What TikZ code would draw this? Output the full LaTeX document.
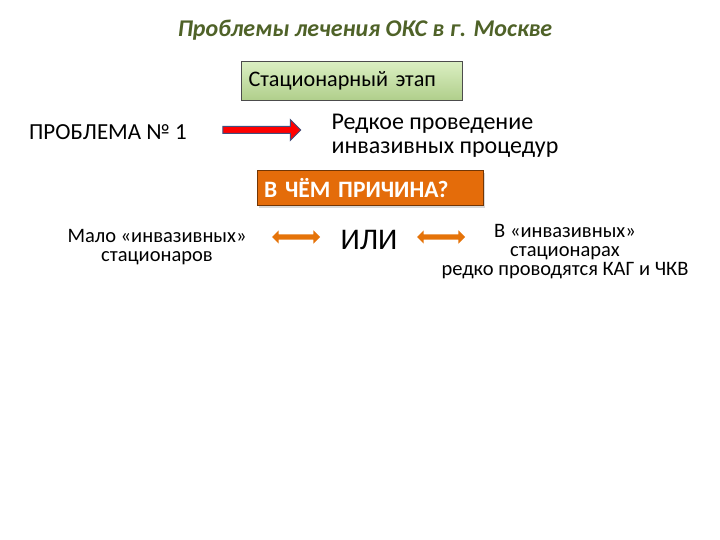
\documentclass[tikz,border=0pt]{standalone}
\usepackage{fontspec}
\setmainfont{Carlito}
\usetikzlibrary{shapes.arrows,shadows,calc}
\definecolor{titlegreen}{HTML}{4F6228}
\definecolor{boxgreen}{HTML}{C3E59A}
\definecolor{boxorange}{HTML}{E46C0A}
\definecolor{arrowedge}{HTML}{3F4F7F}
\tikzset{
    stagebox/.style={draw=black!70,top color=boxgreen!60!white,bottom color=boxgreen!90!black,
      minimum width=221pt,minimum height=39pt,text width=207pt,align=left,inner sep=0pt,
      font=\fontsize{22.2}{26}\selectfont},
    causebox/.style={draw=boxorange!50!black,fill=boxorange,text=white,drop shadow={opacity=0.3},
      minimum width=226pt,minimum height=35pt,text width=212pt,align=left,inner sep=0pt,
      font=\fontsize{23.5}{28}\selectfont\bfseries},
    redarrow/.style={single arrow,draw=arrowedge,fill=red,line width=1pt,inner sep=3pt,
      minimum height=78pt,single arrow head extend=7pt,single arrow head indent=0pt},
    orangearrow/.style={double arrow,fill=boxorange!95!yellow,inner sep=2.5pt,
      minimum height=48pt,double arrow head extend=4pt},
    plaintext/.style={align=center,font=\fontsize{20.5}{19}\selectfont},
  }
\begin{document}
\begin{tikzpicture}[x=1pt,y=-1pt]
				  %cadre 720 x 540
				  \useasboundingbox (0,0) rectangle (720,540);
				  \node[text=titlegreen,font=\fontsize{24}{28}\selectfont\bfseries\itshape] (title) at (365,30) {Проблемы лечения ОКС в г. Москве};
				  \node[stagebox] (stage) at (352,81) {Стационарный этап};
				  %probleme et fleche
				  \node[font=\fontsize{23}{27}\selectfont] (problem) at (108,132) {ПРОБЛЕМА № 1};
				  \node[redarrow] (arrow) at (260,130) {};
				  \node[anchor=west,align=left,font=\fontsize{24}{24}\selectfont] (rare) at (328,136) {Редкое проведение\\инвазивных процедур};
				  \node[causebox] (cause) at (370,188) {В ЧЁМ ПРИЧИНА?};
				  %les deux causes
				  \node[plaintext] (few) at (157,247) {Мало «инвазивных»\\стационаров};
				  \node[orangearrow] (left) at (296,237) {};
				  \node[font=\fontsize{30}{34}\selectfont] (or) at (369,240) {ИЛИ};
				  \node[orangearrow] (right) at (441,237) {};
				  \node[plaintext] (seldom) at (565,252) {В «инвазивных»\\стационарах\\редко проводятся КАГ и ЧКВ};
\end{tikzpicture}
\end{document}
